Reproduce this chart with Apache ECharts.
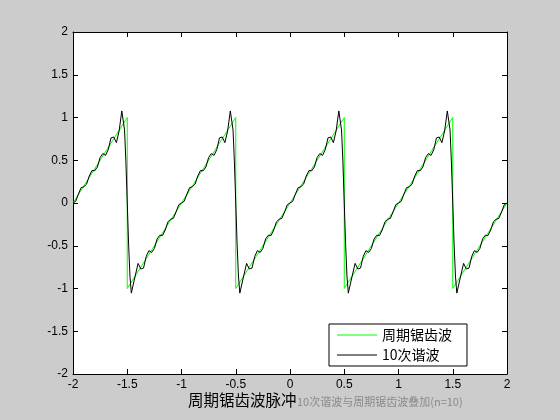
<!DOCTYPE html>
<html>
<head>
<meta charset="utf-8">
<script src="https://cdn.jsdelivr.net/npm/echarts@6/dist/echarts.min.js"></script>
<style>
html,body{margin:0;padding:0;background:#cccccc;}
#c{width:560px;height:420px;}
</style>
</head>
<body>
<div id="c"></div>
<script>
// Axis ranges / ticks
const xRange = [-2, 2];
const yRange = [-2, 2];
const tickStep = 0.5;

// Legend / text labels
const seriesNames = ['周期锯齿波', '10次谐波'];
const bottomLabel = '周期锯齿波脉冲';
const watermark = '10次谐波与周期锯齿波叠加(n=10)';

// Periodic sawtooth (green)
const sawtooth = [
  [-2, 0], [-1.5, 1], [-1.5, -1], [-0.5, 1], [-0.5, -1],
  [0.5, 1], [0.5, -1], [1.5, 1], [1.5, -1], [2, 0]
];

// 10-harmonic approximation (black)
const harmonic10 = [
  [-2,0],[-1.975,0.020],[-1.95,0.105],[-1.925,0.180],[-1.9,0.190],[-1.875,0.220],[-1.85,0.316],[-1.825,0.380],[-1.8,0.377],[-1.775,0.421],[-1.75,0.532],[-1.725,0.578],[-1.7,0.557],[-1.675,0.624],[-1.65,0.761],[-1.625,0.772],[-1.6,0.706],[-1.575,0.843],[-1.55,1.077],[-1.5375,1.054],[-1.525,0.854],[-1.5125,0.481],[-1.5,0],
  [-1.4875,-0.481],[-1.475,-0.854],[-1.4625,-1.054],[-1.45,-1.077],[-1.425,-0.843],[-1.4,-0.706],[-1.375,-0.772],[-1.35,-0.761],[-1.325,-0.624],[-1.3,-0.557],[-1.275,-0.578],[-1.25,-0.532],[-1.225,-0.421],[-1.2,-0.377],[-1.175,-0.380],[-1.15,-0.316],[-1.125,-0.220],[-1.1,-0.190],[-1.075,-0.180],[-1.05,-0.105],[-1.025,-0.020],[-1,0],
  [-0.975,0.020],[-0.95,0.105],[-0.925,0.180],[-0.9,0.190],[-0.875,0.220],[-0.85,0.316],[-0.825,0.380],[-0.8,0.377],[-0.775,0.421],[-0.75,0.532],[-0.725,0.578],[-0.7,0.557],[-0.675,0.624],[-0.65,0.761],[-0.625,0.772],[-0.6,0.706],[-0.575,0.843],[-0.55,1.077],[-0.5375,1.054],[-0.525,0.854],[-0.5125,0.481],[-0.5,0],
  [-0.4875,-0.481],[-0.475,-0.854],[-0.4625,-1.054],[-0.45,-1.077],[-0.425,-0.843],[-0.4,-0.706],[-0.375,-0.772],[-0.35,-0.761],[-0.325,-0.624],[-0.3,-0.557],[-0.275,-0.578],[-0.25,-0.532],[-0.225,-0.421],[-0.2,-0.377],[-0.175,-0.380],[-0.15,-0.316],[-0.125,-0.220],[-0.1,-0.190],[-0.075,-0.180],[-0.05,-0.105],[-0.025,-0.020],[0,0],
  [0.025,0.020],[0.05,0.105],[0.075,0.180],[0.1,0.190],[0.125,0.220],[0.15,0.316],[0.175,0.380],[0.2,0.377],[0.225,0.421],[0.25,0.532],[0.275,0.578],[0.3,0.557],[0.325,0.624],[0.35,0.761],[0.375,0.772],[0.4,0.706],[0.425,0.843],[0.45,1.077],[0.4625,1.054],[0.475,0.854],[0.4875,0.481],[0.5,0],
  [0.5125,-0.481],[0.525,-0.854],[0.5375,-1.054],[0.55,-1.077],[0.575,-0.843],[0.6,-0.706],[0.625,-0.772],[0.65,-0.761],[0.675,-0.624],[0.7,-0.557],[0.725,-0.578],[0.75,-0.532],[0.775,-0.421],[0.8,-0.377],[0.825,-0.380],[0.85,-0.316],[0.875,-0.220],[0.9,-0.190],[0.925,-0.180],[0.95,-0.105],[0.975,-0.020],[1,0],
  [1.025,0.020],[1.05,0.105],[1.075,0.180],[1.1,0.190],[1.125,0.220],[1.15,0.316],[1.175,0.380],[1.2,0.377],[1.225,0.421],[1.25,0.532],[1.275,0.578],[1.3,0.557],[1.325,0.624],[1.35,0.761],[1.375,0.772],[1.4,0.706],[1.425,0.843],[1.45,1.077],[1.4625,1.054],[1.475,0.854],[1.4875,0.481],[1.5,0],
  [1.5125,-0.481],[1.525,-0.854],[1.5375,-1.054],[1.55,-1.077],[1.575,-0.843],[1.6,-0.706],[1.625,-0.772],[1.65,-0.761],[1.675,-0.624],[1.7,-0.557],[1.725,-0.578],[1.75,-0.532],[1.775,-0.421],[1.8,-0.377],[1.825,-0.380],[1.85,-0.316],[1.875,-0.220],[1.9,-0.190],[1.925,-0.180],[1.95,-0.105],[1.975,-0.020],[2,0]
];

const chart = echarts.init(document.getElementById('c'), null, {renderer: 'canvas'});
const axisFont = {color: '#000', fontSize: 12, fontFamily: 'Liberation Sans, Arial, sans-serif'};
const lineStyle = {color: '#000', width: 1};

function mkAxis(pos, isX, showLabel) {
  return {
    type: 'value',
    position: pos,
    min: isX ? xRange[0] : yRange[0],
    max: isX ? xRange[1] : yRange[1],
    interval: tickStep,
    axisLine: {show: true, onZero: false, lineStyle: lineStyle},
    axisTick: {show: true, inside: true, length: 5, lineStyle: lineStyle},
    axisLabel: Object.assign({show: showLabel, margin: 5, showMinLabel: true, showMaxLabel: true}, axisFont),
    splitLine: {show: false}
  };
}

chart.setOption({
  animation: false,
  backgroundColor: '#cccccc',
  grid: {left: 73, right: 53, top: 32, bottom: 46, show: true, backgroundColor: '#ffffff', borderWidth: 0},
  xAxis: [mkAxis('bottom', true, true), mkAxis('top', true, false)],
  yAxis: [mkAxis('left', false, true), mkAxis('right', false, false)],
  legend: {
    orient: 'vertical',
    left: 329,
    top: 324,
    padding: [4, 15, 4, 8],
    itemWidth: 40,
    itemHeight: 14,
    itemGap: 6,
    backgroundColor: '#ffffff',
    borderColor: '#000',
    borderWidth: 1,
    borderRadius: 0,
    textStyle: {color: '#000', fontSize: 14, fontFamily: 'Noto Sans CJK SC'},
    data: seriesNames.map(n => ({name: n, icon: 'path://M0,5L40,5L40,6L0,6Z'}))
  },
  graphic: [
    {type: 'text', left: 188, top: 392, style: {text: bottomLabel, fill: '#000', font: '15.5px "Noto Sans CJK SC"'}},
    {type: 'text', left: 297, top: 396, style: {text: watermark, fill: '#8a8a8a', font: '11px "Noto Sans CJK SC"'}}
  ],
  series: [
    {name: seriesNames[0], type: 'line', xAxisIndex: 0, yAxisIndex: 0, data: sawtooth, symbol: 'none', lineStyle: {color: '#00ff00', width: 1}, itemStyle: {color: '#00ff00'}},
    {name: seriesNames[1], type: 'line', xAxisIndex: 0, yAxisIndex: 0, data: harmonic10, symbol: 'none', lineStyle: {color: '#000000', width: 1}, itemStyle: {color: '#000000'}}
  ]
});
</script>
</body>
</html>
